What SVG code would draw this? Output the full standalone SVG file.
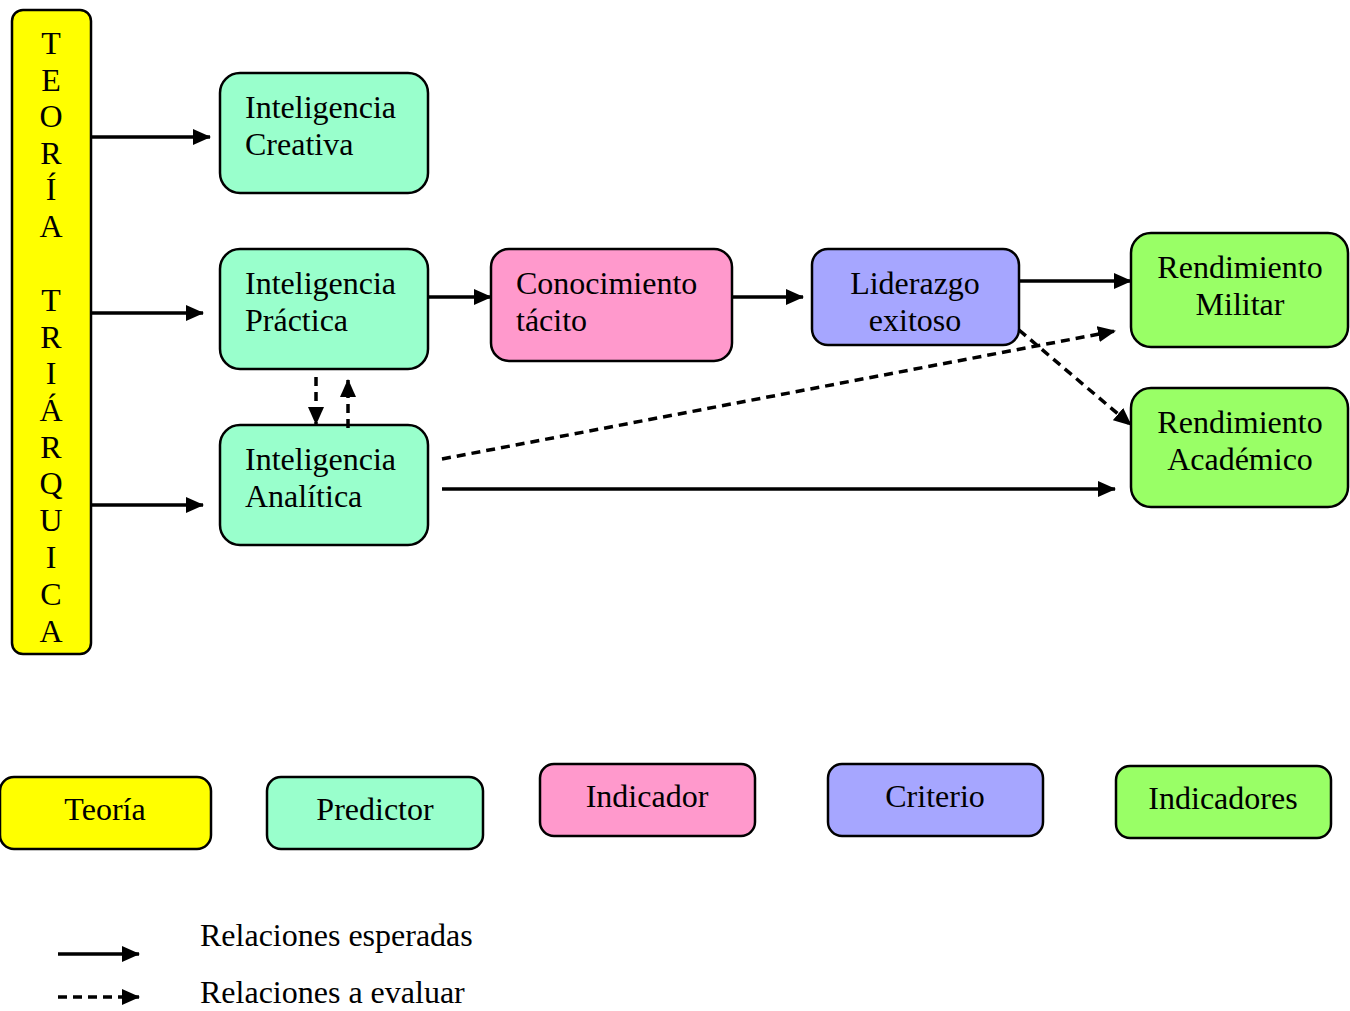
<svg xmlns="http://www.w3.org/2000/svg" width="1350" height="1011" viewBox="0 0 1350 1011">
<style>
.box{stroke:#000;stroke-width:2.5}
.t{font-family:"Liberation Serif","Times New Roman",serif;font-size:32px;fill:#000}
.c{text-anchor:middle}
.ln{stroke:#000;stroke-width:3.5;fill:none}
.d{stroke-dasharray:9,6}
</style>
<defs>
<marker id="ah" markerUnits="userSpaceOnUse" markerWidth="18" markerHeight="16" refX="17" refY="8" orient="auto">
<path d="M0,0 L18,8 L0,16 Z" fill="#000"/>
</marker>
</defs>
<rect width="1350" height="1011" fill="#fff"/>

<g id="teoria">
<rect class="box" x="12" y="10" width="79" height="644" rx="11" fill="#FFFF00"/>
<text class="t c" x="51" font-size="29">
<tspan x="51" y="54">T</tspan><tspan x="51" y="91">E</tspan><tspan x="51" y="127">O</tspan><tspan x="51" y="164">R</tspan><tspan x="51" y="200">Í</tspan><tspan x="51" y="237">A</tspan><tspan x="51" y="311">T</tspan><tspan x="51" y="348">R</tspan><tspan x="51" y="384">I</tspan><tspan x="51" y="421">Á</tspan><tspan x="51" y="458">R</tspan><tspan x="51" y="494">Q</tspan><tspan x="51" y="531">U</tspan><tspan x="51" y="568">I</tspan><tspan x="51" y="605">C</tspan><tspan x="51" y="642">A</tspan>
</text>
</g>

<g id="creativa">
<rect class="box" x="220" y="73" width="208" height="120" rx="20" fill="#99FFCC"/>
<text class="t" x="245" y="118">Inteligencia</text>
<text class="t" x="245" y="155">Creativa</text>
</g>
<g id="practica">
<rect class="box" x="220" y="249" width="208" height="120" rx="20" fill="#99FFCC"/>
<text class="t" x="245" y="294">Inteligencia</text>
<text class="t" x="245" y="331">Práctica</text>
</g>
<g id="analitica">
<rect class="box" x="220" y="425" width="208" height="120" rx="20" fill="#99FFCC"/>
<text class="t" x="245" y="470">Inteligencia</text>
<text class="t" x="245" y="507">Analítica</text>
</g>
<g id="conocimiento">
<rect class="box" x="491" y="249" width="241" height="112" rx="18" fill="#FF99CC"/>
<text class="t" x="516" y="294">Conocimiento</text>
<text class="t" x="516" y="331">tácito</text>
</g>
<g id="liderazgo">
<rect class="box" x="812" y="249" width="207" height="96" rx="16" fill="#A6A6FF"/>
<text class="t c" x="915" y="294">Liderazgo</text>
<text class="t c" x="915" y="331">exitoso</text>
</g>
<g id="militar">
<rect class="box" x="1131" y="233" width="217" height="114" rx="20" fill="#99FF66"/>
<text class="t c" x="1240" y="278">Rendimiento</text>
<text class="t c" x="1240" y="315">Militar</text>
</g>
<g id="academico">
<rect class="box" x="1131" y="388" width="217" height="119" rx="20" fill="#99FF66"/>
<text class="t c" x="1240" y="433">Rendimiento</text>
<text class="t c" x="1240" y="470">Académico</text>
</g>

<g id="connectors">
<line class="ln" x1="91" y1="137" x2="210" y2="137" marker-end="url(#ah)"/>
<line class="ln" x1="91" y1="313" x2="203" y2="313" marker-end="url(#ah)"/>
<line class="ln" x1="91" y1="505" x2="203" y2="505" marker-end="url(#ah)"/>
<line class="ln" x1="428" y1="297" x2="491" y2="297" marker-end="url(#ah)"/>
<line class="ln" x1="732" y1="297" x2="803" y2="297" marker-end="url(#ah)"/>
<line class="ln" x1="1019" y1="281" x2="1131" y2="281" marker-end="url(#ah)"/>
<line class="ln d" x1="1019" y1="330" x2="1131" y2="425" marker-end="url(#ah)"/>
<line class="ln d" x1="442" y1="459" x2="1115" y2="331" marker-end="url(#ah)"/>
<line class="ln" x1="442" y1="489" x2="1115" y2="489" marker-end="url(#ah)"/>
<line class="ln d" x1="316" y1="377" x2="316" y2="424" marker-end="url(#ah)"/>
<line class="ln d" x1="348" y1="428" x2="348" y2="380" marker-end="url(#ah)"/>
</g>

<g id="legend-teoria">
<rect class="box" x="0" y="777" width="211" height="72" rx="14" fill="#FFFF00"/>
<text class="t c" x="105" y="820">Teoría</text>
</g>
<g id="legend-predictor">
<rect class="box" x="267" y="777" width="216" height="72" rx="14" fill="#99FFCC"/>
<text class="t c" x="375" y="820">Predictor</text>
</g>
<g id="legend-indicador">
<rect class="box" x="540" y="764" width="215" height="72" rx="14" fill="#FF99CC"/>
<text class="t c" x="647" y="807">Indicador</text>
</g>
<g id="legend-criterio">
<rect class="box" x="828" y="764" width="215" height="72" rx="14" fill="#A6A6FF"/>
<text class="t c" x="935" y="807">Criterio</text>
</g>
<g id="legend-indicadores">
<rect class="box" x="1116" y="766" width="215" height="72" rx="14" fill="#99FF66"/>
<text class="t c" x="1223" y="809">Indicadores</text>
</g>

<g id="legend-lines">
<line class="ln" x1="58" y1="954" x2="139" y2="954" marker-end="url(#ah)"/>
<line class="ln d" x1="58" y1="997" x2="139" y2="997" marker-end="url(#ah)"/>
<text class="t" x="200" y="946">Relaciones esperadas</text>
<text class="t" x="200" y="1003">Relaciones a evaluar</text>
</g>
</svg>
